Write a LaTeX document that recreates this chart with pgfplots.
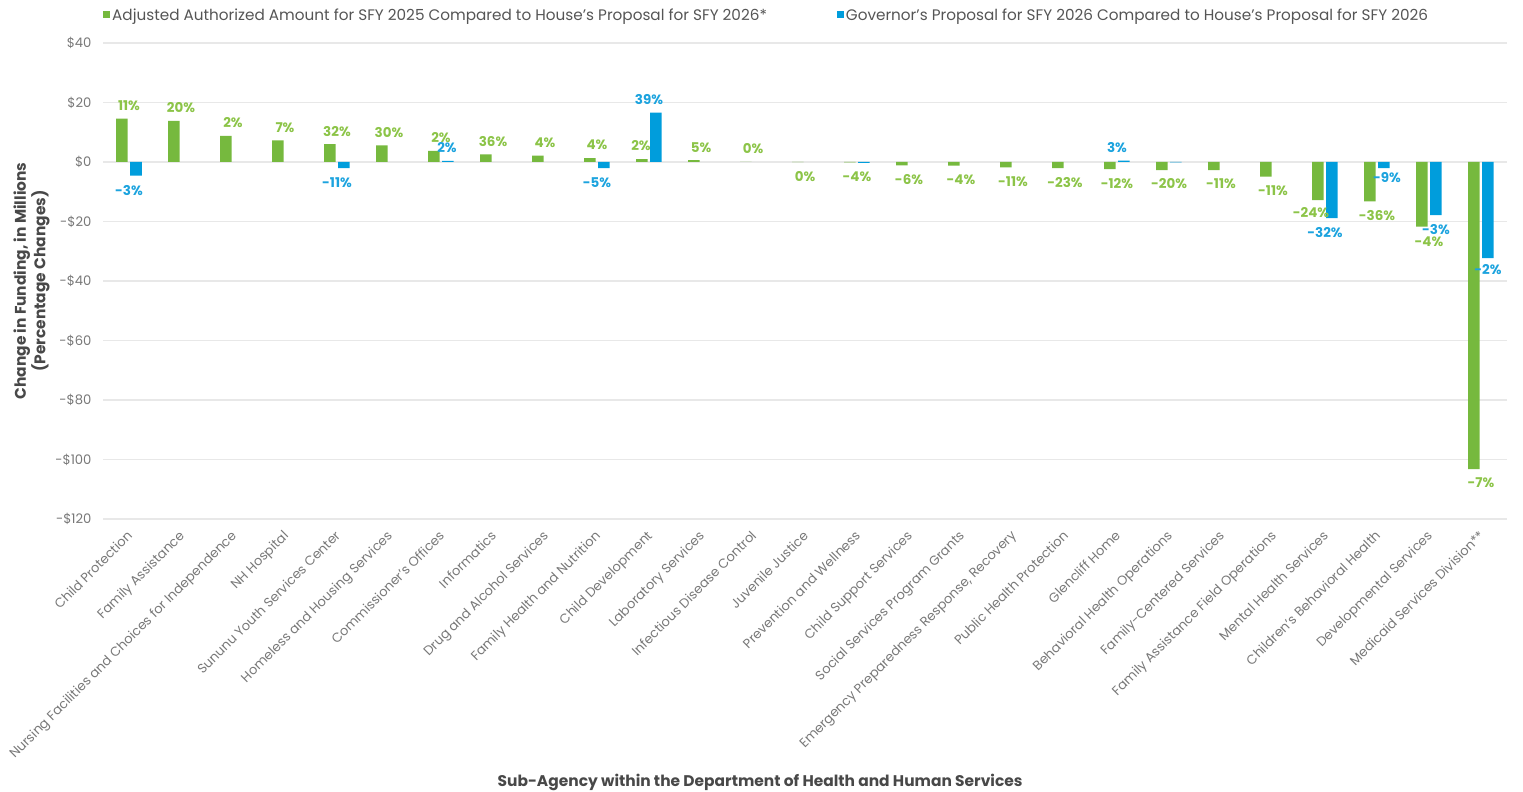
\documentclass[border=0pt]{standalone}
\usepackage{fontspec}
\setmainfont{Poppins}
\usepackage{pgfplots}
\pgfplotsset{compat=1.18}
\usepackage{pgfplotstable}

\definecolor{barGreen}{RGB}{118,185,62}
\definecolor{barBlue}{RGB}{0,157,220}
\definecolor{labGreen}{RGB}{140,196,72}
\definecolor{labBlue}{RGB}{28,163,222}
\definecolor{tickGray}{RGB}{120,120,120}
\definecolor{legendGray}{RGB}{85,85,85}
\definecolor{titleGray}{RGB}{72,72,72}
\definecolor{gridGray}{RGB}{232,232,232}

% x: sub-agency index, y: change in $ millions, p: percentage change,
% gx/gy: offset (bp) of the percentage label centre from the bar end
\pgfplotstableread{
x   y        p     gx    gy
0   14.6     11    0     13
1   13.8     20    0     13
2   8.8      2     0     13
3   7.3      7     0     13
4   6.0      32    0     13
5   5.6      30    0     13
6   3.7      2     0     13
7   2.6      36    0     13
8   2.1      4     0     13
9   1.3      4     0     13
10  1.0      2     -8    13
11  0.6      5     0     13
12  0.05     0     0     13
13  -0.05    0     0     -14
14  -0.1     -4    0     -14
15  -1.1     -6    0     -14
16  -1.2     -4    0     -14
17  -1.8     -11   0     -14
18  -2.1     -23   0     -14
19  -2.4     -12   0     -14
20  -2.7     -20   0     -14
21  -2.7     -11   0     -14
22  -4.9     -11   0     -14
23  -12.8    -24   -14   -12
24  -13.2    -36   0     -14
25  -21.7    -4    0     -15
26  -103.2   -7    0     -14
}\greendata

\pgfplotstableread{
x   y        p     gx    gy
0   -4.6     -3    0     -15
4   -2.1     -11   0     -14
6   0.4      2     6     13
9   -2.1     -5    0     -14
10  16.6     39    0     13
19  0.5      3     0     13
23  -18.9    -32   0     -14
24  -2.1     -9    10    -9
25  -17.9    -3    7     -14
26  -32.3    -2    7     -11
}\bluedata

% blue changes too small to carry a label
\pgfplotstableread{
x   y
14  -0.3
20  -0.15
}\bluesmall

\begin{document}
\begin{tikzpicture}
\useasboundingbox (0,0) rectangle (1523bp,792bp);
\begin{axis}[
  at={(103bp,273bp)}, anchor=south west,
  scale only axis, width=1404bp, height=476bp,
  xmin=-0.5, xmax=26.5, ymin=-120, ymax=40,
  clip=false,
  axis line style={draw=none},
  major tick length=0pt,
  ytick={-120,-100,...,40},
  yticklabels={-\$120,-\$100,-\$80,-\$60,-\$40,-\$20,\$0,\$20,\$40},
  yticklabel style={font=\fontsize{13.2}{15}\selectfont, text=tickGray, xshift=-8bp},
  ymajorgrids,
  grid style={gridGray, line width=1.3bp},
  xtick={0,...,26},
  xticklabels={Child Protection, Family Assistance, Nursing Facilities and Choices for Independence, NH Hospital, Sununu Youth Services Center, Homeless and Housing Services, Commissioner’s Offices, Informatics, Drug and Alcohol Services, Family Health and Nutrition, Child Development, Laboratory Services, Infectious Disease Control, Juvenile Justice, Prevention and Wellness, Child Support Services, Social Services Program Grants, {Emergency Preparedness Response, Recovery}, Public Health Protection, Glencliff Home, Behavioral Health Operations, Family-Centered Services, Family Assistance Field Operations, Mental Health Services, Children’s Behavioral Health, Developmental Services, Medicaid Services Division**},
  xticklabel style={xshift=-3bp, yshift=-9bp, rotate=45, anchor=north east, font=\fontsize{13.1}{15}\selectfont, text=tickGray, inner sep=1bp},
  ylabel={Change in Funding, in Millions\\(Percentage Changes)},
  ylabel style={at={(axis description cs:-0.0356,0.5)}, anchor=south, align=center, font=\fontsize{15.5}{18}\selectfont\bfseries, text=titleGray},
  xlabel={Sub-Agency within the Department of Health and Human Services},
  xlabel style={at={(axis description cs:0.468,0)}, anchor=base, yshift=-267bp, font=\fontsize{15.5}{18}\selectfont\bfseries, text=titleGray},
  legend columns=2,
  legend style={at={(0,1)}, anchor=west, yshift=28bp, draw=none, fill=none,
    font=\fontsize{15.3}{18}\selectfont, text=legendGray, inner sep=0pt,
    nodes={inner sep=2bp},
    /tikz/every even column/.append style={column sep=68bp}},
  legend cell align=left,
]
\addplot[ybar, bar width=11.5bp, bar shift=-7bp, fill=barGreen, draw=none,
  legend image code/.code={\fill[barGreen] (0bp,-3.5bp) rectangle (7bp,3.5bp);},
  point meta=explicit symbolic,
  nodes near coords={\pgfplotspointmeta\%},
  visualization depends on={\thisrow{gx}\as\gx},
  visualization depends on={\thisrow{gy}\as\gy},
  every node near coord/.append style={anchor=center, xshift=\gx bp, yshift=\gy bp,
    inner sep=0pt, text=labGreen, font=\fontsize{13.5}{15}\selectfont\bfseries},
] table[x=x, y=y, meta=p] {\greendata};
\addlegendentry{Adjusted Authorized Amount for SFY 2025 Compared to House’s Proposal for SFY 2026*}

\addplot[ybar, bar width=11.5bp, bar shift=7bp, fill=barBlue, draw=none,
  legend image code/.code={\fill[barBlue] (0bp,-3.5bp) rectangle (7bp,3.5bp);},
  point meta=explicit symbolic,
  nodes near coords={\pgfplotspointmeta\%},
  visualization depends on={\thisrow{gx}\as\gx},
  visualization depends on={\thisrow{gy}\as\gy},
  every node near coord/.append style={anchor=center, xshift=\gx bp, yshift=\gy bp,
    inner sep=0pt, text=labBlue, font=\fontsize{13.5}{15}\selectfont\bfseries},
] table[x=x, y=y, meta=p] {\bluedata};
\addlegendentry{Governor’s Proposal for SFY 2026 Compared to House’s Proposal for SFY 2026}

\addplot[ybar, bar width=11.5bp, bar shift=7bp, fill=barBlue, draw=none, forget plot]
  table[x=x, y=y] {\bluesmall};
\end{axis}
\end{tikzpicture}
\end{document}
